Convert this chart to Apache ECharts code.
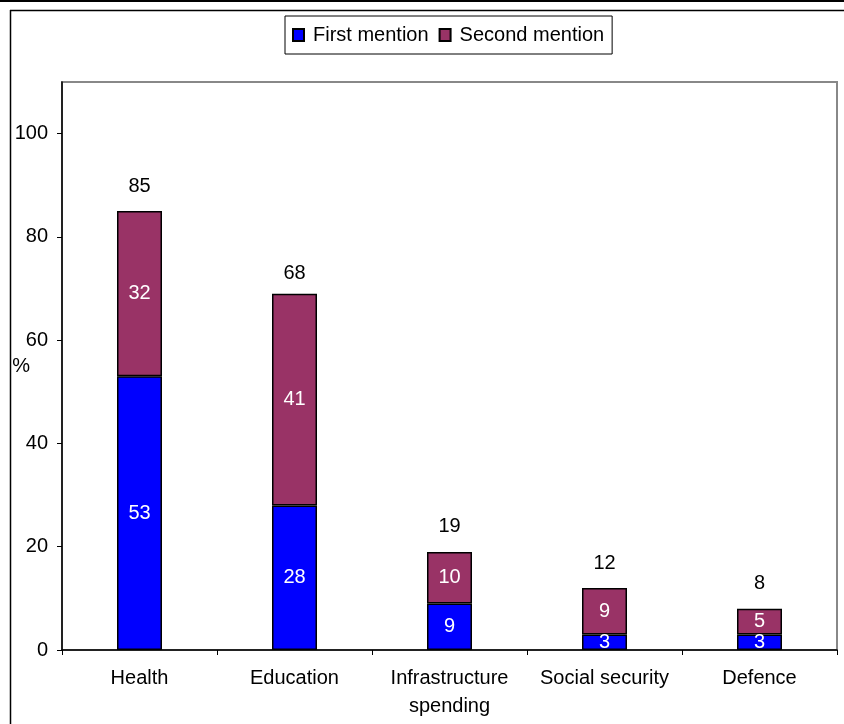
<!DOCTYPE html>
<html>
<head>
<meta charset="utf-8">
<script src="https://cdn.jsdelivr.net/npm/echarts@6/dist/echarts.min.js"></script>
<style>
  html, body { margin: 0; padding: 0; background: #fff; }
  #chart { width: 844px; height: 724px; }
</style>
</head>
<body>
<div id="chart"></div>
<script>
// Spending priorities: share naming each area as first / second priority (%)
const categories = ['Health', 'Education', 'Infrastructure\nspending', 'Social security', 'Defence'];
const firstMention = [53, 28, 9, 3, 3];
const secondMention = [32, 41, 10, 9, 5];
const totals = [85, 68, 19, 12, 8];
const yTicks = [0, 20, 40, 60, 80, 100];

const FONT = '"Liberation Sans", Arial, sans-serif';
const FS = 20;

const chart = echarts.init(document.getElementById('chart'), null, { renderer: 'canvas' });

const segLabel = {
  show: true,
  position: 'inside',
  color: '#fff',
  fontFamily: FONT,
  fontSize: FS
};

chart.setOption({
  animation: false,
  backgroundColor: '#fff',
  textStyle: { fontFamily: FONT },
  graphic: [
    { type: 'line', shape: { x1: 0, y1: 1, x2: 844, y2: 1 }, style: { stroke: '#000', lineWidth: 2 } },
    { type: 'line', shape: { x1: 10, y1: 10.5, x2: 844, y2: 10.5 }, style: { stroke: '#000', lineWidth: 1.5 } },
    { type: 'line', shape: { x1: 10.5, y1: 10, x2: 10.5, y2: 724 }, style: { stroke: '#000', lineWidth: 1.5 } }
  ],
  legend: {
    data: ['First mention', 'Second mention'],
    left: 285,
    top: 16,
    padding: [9, 8, 9, 7],
    itemGap: 10,
    itemWidth: 11,
    itemHeight: 12,
    icon: 'rect',
    borderColor: '#000',
    borderWidth: 1,
    textStyle: { fontFamily: FONT, fontSize: FS, color: '#000', padding: [0, 0, 0, 4] }
  },
  grid: {
    left: 62,
    right: 7,
    top: 82,
    bottom: 74,
    outerBoundsMode: 'none',
    containLabel: false,
    show: true,
    borderColor: '#888',
    borderWidth: 2
  },
  xAxis: {
    type: 'category',
    data: categories,
    axisLine: { lineStyle: { color: '#000', width: 1.5 } },
    axisTick: { show: true, alignWithLabel: false, length: 5, lineStyle: { color: '#000' } },
    axisLabel: { color: '#000', fontFamily: FONT, fontSize: FS, lineHeight: 28, margin: 14, interval: 0 }
  },
  yAxis: {
    type: 'value',
    min: 0,
    max: 110,
    interval: 20,
    name: '%',
    nameLocation: 'middle',
    nameRotate: 0,
    nameGap: 32,
    nameMoveOverlap: false,
    nameTextStyle: { color: '#000', fontFamily: FONT, fontSize: FS },
    axisLine: { show: true, lineStyle: { color: '#000', width: 1.5 } },
    axisTick: { show: true, length: 5, lineStyle: { color: '#000' } },
    axisLabel: {
      color: '#000', fontFamily: FONT, fontSize: FS, margin: 14,
      showMaxLabel: false,
      formatter: v => (yTicks.indexOf(v) >= 0 ? String(v) : '')
    },
    splitLine: { show: false }
  },
  series: [
    {
      name: 'First mention',
      type: 'bar',
      stack: 'total',
      barWidth: 45,
      data: firstMention,
      itemStyle: { color: '#0000FF', borderColor: '#000', borderWidth: 1.5 },
      label: segLabel
    },
    {
      name: 'Second mention',
      type: 'bar',
      stack: 'total',
      barWidth: 45,
      data: secondMention,
      itemStyle: { color: '#993366', borderColor: '#000', borderWidth: 1.5 },
      label: segLabel
    },
    {
      // totals written above each column
      name: 'Total',
      type: 'scatter',
      data: totals,
      symbolSize: 0,
      silent: true,
      z: 5,
      itemStyle: { opacity: 1, color: '#000' },
      label: {
        show: true,
        position: 'top',
        distance: 15,
        color: '#000',
        opacity: 1,
        fontFamily: FONT,
        fontSize: FS,
        formatter: p => String(p.value)
      }
    }
  ]
});
</script>
</body>
</html>
